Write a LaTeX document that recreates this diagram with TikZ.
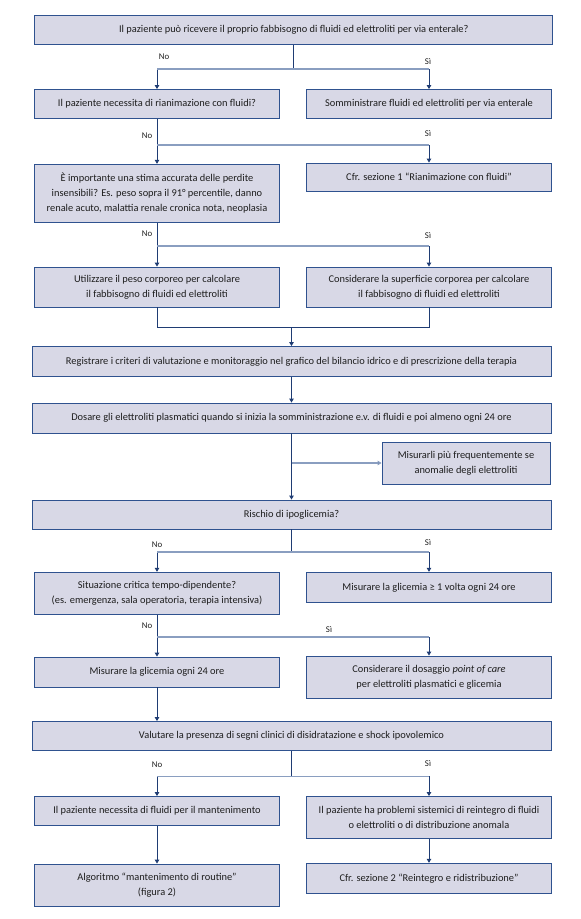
\documentclass[tikz,border=0pt]{standalone}
\usepackage{fontspec}
\setmainfont{Carlito}
\usetikzlibrary{arrows.meta}
\definecolor{boxfill}{RGB}{216,216,230}
\definecolor{boxline}{RGB}{47,82,143}
\definecolor{connc}{RGB}{31,60,115}
\definecolor{connlight}{RGB}{138,158,192}
\definecolor{txt}{RGB}{30,30,30}
\begin{document}
\begin{tikzpicture}[x=1pt,y=-1pt,
    box/.style={draw=boxline,fill=boxfill,line width=0.9pt,align=center,inner sep=2pt,
        font=\fontsize{10.4}{15}\selectfont,text=txt},
    wide/.style={box,minimum width=519pt},
    half/.style={box,minimum width=245pt},
    lbl/.style={font=\fontsize{8.8}{10}\selectfont,text=txt},
    flow/.style={draw=connc,line width=0.9pt},
    hflow/.style={draw=connlight,line width=1.3pt},
    >={Triangle[length=4pt,width=4.5pt]}]
    \useasboundingbox (0,0) rectangle (581,919);
    \node[box,minimum width=518pt,minimum height=29pt] (q1) at (293.8,29.7) {Il paziente può ricevere il proprio fabbisogno di fluidi ed elettroliti per via enterale?};
    \node[half,minimum height=29pt] (q2l) at (157,104) {Il paziente necessita di rianimazione con fluidi?};
    \node[half,minimum height=29pt] (a2r) at (429,104) {Somministrare fluidi ed elettroliti per via enterale};
    \node[half,minimum height=58pt] (q3l) at (157,193.3) {È importante una stima accurata delle perdite\\insensibili? Es. peso sopra il 91° percentile, danno\\renale acuto, malattia renale cronica nota, neoplasia};
    \node[half,minimum height=28pt] (a3r) at (429,177) {Cfr. sezione 1 “Rianimazione con fluidi”};
    \node[half,minimum height=40pt] (a4l) at (157,287) {Utilizzare il peso corporeo per calcolare\\il fabbisogno di fluidi ed elettroliti};
    \node[half,minimum height=40pt] (a4r) at (429,287) {Considerare la superficie corporea per calcolare\\il fabbisogno di fluidi ed elettroliti};
    \node[wide,minimum height=30pt] (b5) at (291.5,361.5) {Registrare i criteri di valutazione e monitoraggio nel grafico del bilancio idrico e di prescrizione della terapia};
    \node[wide,minimum height=30pt] (b6) at (291.5,418) {Dosare gli elettroliti plasmatici quando si inizia la somministrazione e.v. di fluidi e poi almeno ogni 24 ore};
    \node[box,minimum width=168pt,minimum height=42pt] (b7) at (466,463) {Misurarli più frequentemente se\\anomalie degli elettroliti};
    \node[wide,minimum height=29pt] (q8) at (291.5,514.5) {Rischio di ipoglicemia?};
    \node[half,minimum height=42pt] (q9l) at (157,593.3) {Situazione critica tempo-dipendente?\\(es. emergenza, sala operatoria, terapia intensiva)};
    \node[half,minimum height=30pt] (a9r) at (429,587.3) {Misurare la glicemia ≥ 1 volta ogni 24 ore};
    \node[half,minimum height=30pt] (a10l) at (157,672) {Misurare la glicemia ogni 24 ore};
    \node[half,minimum height=42pt] (a10r) at (429,677) {Considerare il dosaggio \textit{point of care}\\per elettroliti plasmatici e glicemia};
    \node[wide,minimum height=29pt] (q11) at (291.5,736) {Valutare la presenza di segni clinici di disidratazione e shock ipovolemico};
    \node[half,minimum height=29pt] (q12l) at (157,811) {Il paziente necessita di fluidi per il mantenimento};
    \node[half,minimum height=42pt] (q12r) at (429,817.5) {Il paziente ha problemi sistemici di reintegro di fluidi\\o elettroliti o di distribuzione anomala};
    \node[half,minimum height=42pt] (a13l) at (157,885) {Algoritmo “mantenimento di routine”\\(figura 2)};
    \node[half,minimum height=30pt] (a13r) at (429,878.3) {Cfr. sezione 2 “Reintegro e ridistribuzione”};

    \coordinate (j1) at (q1.south |- 0,69);
    \draw[flow] (q1) -- (j1);
    \draw[flow,->] (j1) -| (q2l);
    \draw[flow,->] (j1) -| (a2r);
    \draw[hflow] (j1 -| q2l) -- (j1 -| a2r);
    \coordinate (j2) at (q2l.south |- 0,145);
    \draw[flow,->] (q2l) -- (q3l);
    \draw[flow,->] (j2) -| (a3r);
    \draw[hflow] (j2) -- (j2 -| a3r);
    \coordinate (j3) at (q3l.south |- 0,246);
    \draw[flow,->] (q3l) -- (a4l);
    \draw[flow,->] (j3) -| (a4r);
    \draw[hflow] (j3) -- (j3 -| a4r);
    \coordinate (m4) at (b5.north |- 0,327.5);
    \draw[flow] (a4l) |- (m4) -| (a4r);
    \draw[flow,->] (m4) -- (b5);
    \draw[flow,->] (b5) -- (b6);
    \draw[flow,->] (b6) -- (q8);
    \coordinate (j6) at (b6.south |- b7.west);
    \draw[hflow,->,>={Triangle[length=4pt,width=4.5pt,fill=connc]}] (j6) -- (b7);
    \coordinate (j8) at (q8.south |- 0,552);
    \draw[flow] (q8) -- (j8);
    \draw[flow,->] (j8) -| (q9l);
    \draw[flow,->] (j8) -| (a9r);
    \draw[hflow] (j8 -| q9l) -- (j8 -| a9r);
    \coordinate (j9) at (q9l.south |- 0,637);
    \draw[flow,->] (q9l) -- (a10l);
    \draw[flow,->] (j9) -| (a10r);
    \draw[hflow] (j9) -- (j9 -| a10r);
    \draw[flow,->] (a10l) -- (a10l.south |- q11.north);
    \coordinate (j11) at (q11.south |- 0,776.5);
    \draw[flow] (q11) -- (j11);
    \draw[flow,->] (j11) -| (q12l);
    \draw[flow,->] (j11) -| (q12r);
    \draw[hflow] (j11 -| q12l) -- (j11 -| q12r);
    \draw[flow,->] (q12l) -- (a13l);
    \draw[flow,->] (q12r) -- (a13r);

    \node[lbl] (n1) at (164,57) {No};
    \node[lbl] (s1) at (428,62) {Sì};
    \node[lbl] (n2) at (147,136) {No};
    \node[lbl] (s2) at (428,134) {Sì};
    \node[lbl] (n3) at (147,234) {No};
    \node[lbl] (s3) at (428,236) {Sì};
    \node[lbl] (n8) at (157,545) {No};
    \node[lbl] (s8) at (428,543) {Sì};
    \node[lbl] (n9) at (147,626) {No};
    \node[lbl] (s9) at (329,630) {Sì};
    \node[lbl] (n11) at (157,765) {No};
    \node[lbl] (s11) at (428,764) {Sì};
\end{tikzpicture}
\end{document}
